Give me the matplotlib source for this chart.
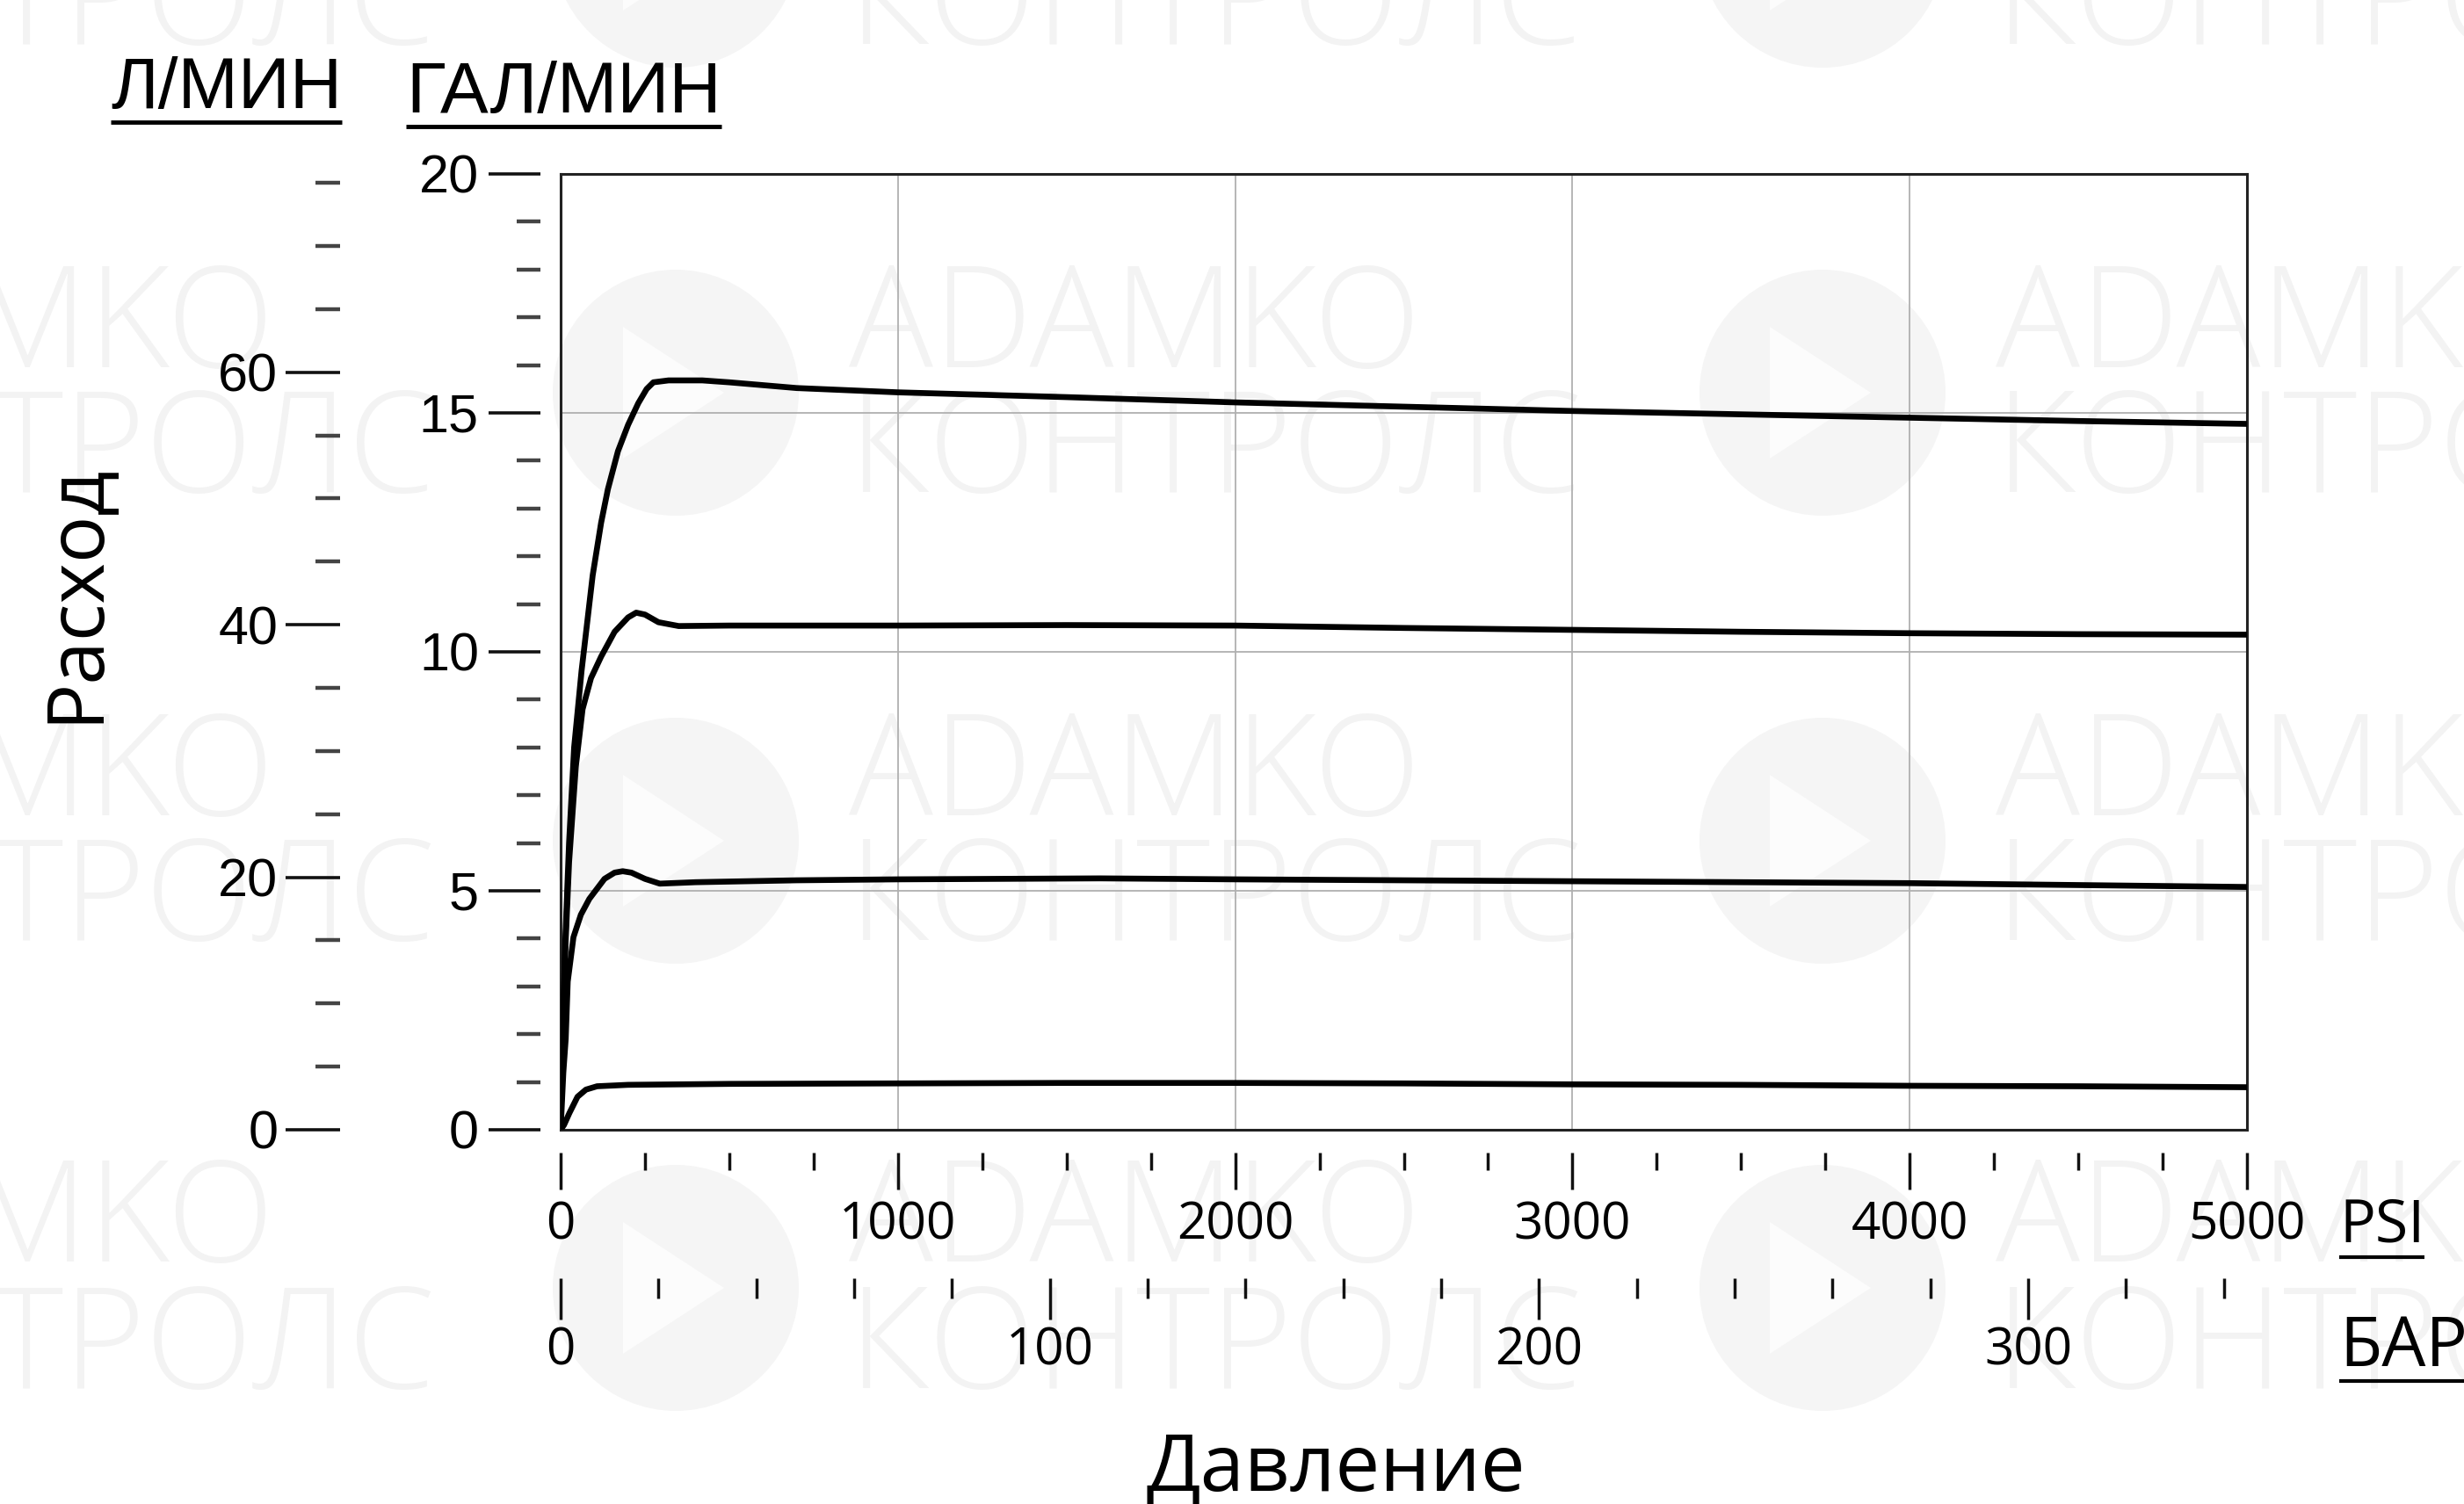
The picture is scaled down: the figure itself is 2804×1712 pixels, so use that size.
import matplotlib
matplotlib.use('Agg')
import matplotlib.pyplot as plt
from matplotlib.lines import Line2D
from matplotlib.patches import Ellipse, Polygon
from matplotlib.ticker import MultipleLocator

# flow curves, pressure in PSI, flow in US gal/min
psi_a = [0, 6, 14, 25, 40, 62, 95, 120, 140, 170, 200, 230, 255, 275, 320, 420, 500, 700, 1000, 1500, 2000, 2500, 3000, 3500, 4000, 4500, 5000]
gpm_a = [0, 2.0, 4.0, 6.0, 8.0, 9.6, 11.6, 12.7, 13.4, 14.2, 14.75, 15.2, 15.5, 15.64, 15.68, 15.68, 15.64, 15.52, 15.43, 15.33, 15.22, 15.13, 15.04, 14.97, 14.9, 14.83, 14.77]

psi_b = [0, 6, 14, 25, 45, 65, 90, 120, 160, 200, 224, 250, 290, 350, 500, 1000, 1500, 2000, 2500, 3000, 3500, 4000, 4500, 5000]
gpm_b = [0, 1.9, 3.8, 5.6, 7.6, 8.8, 9.45, 9.9, 10.42, 10.72, 10.82, 10.78, 10.62, 10.54, 10.55, 10.55, 10.56, 10.55, 10.5, 10.46, 10.42, 10.39, 10.37, 10.36]

psi_c = [0, 8, 15, 21, 38, 60, 85, 130, 160, 184, 210, 250, 294, 400, 700, 1000, 1600, 2000, 2500, 3000, 3500, 4000, 4500, 5000]
gpm_c = [0, 1.2, 1.9, 3.1, 4.03, 4.5, 4.83, 5.25, 5.38, 5.41, 5.38, 5.25, 5.15, 5.18, 5.22, 5.24, 5.26, 5.24, 5.22, 5.2, 5.18, 5.16, 5.12, 5.08]

psi_d = [0, 10, 26, 50, 75, 108, 200, 500, 1000, 1500, 2000, 2500, 3000, 3500, 4000, 4500, 5000]
gpm_d = [0, 0.1, 0.35, 0.69, 0.84, 0.91, 0.94, 0.96, 0.97, 0.98, 0.98, 0.97, 0.95, 0.94, 0.92, 0.91, 0.89]

psi_ticks = [0, 1000, 2000, 3000, 4000, 5000]
bar_ticks = [0, 100, 200, 300]
gal_ticks = [0, 5, 10, 15, 20]
lpm_ticks = [0, 20, 40, 60]

PSI_PER_BAR = 14.5038
L_PER_GAL = 3.785

W, H = 2804, 1712


def fx(px):
    return px / W


def fy(py):
    return 1 - py / H


def underline(fig, txt, y_px, lw):
    """Draws a line under a text, y given in picture pixels from the top"""
    fig.canvas.draw()
    bb = txt.get_window_extent()
    fig.add_artist(Line2D([bb.x0 / W, bb.x1 / W], [fy(y_px), fy(y_px)],
                          color='black', lw=lw, solid_capstyle='butt'))


fig = plt.figure(figsize=(W / 100, H / 100), dpi=100)
fig.patch.set_facecolor('white')

# faint watermark tiles
wm_text = '#f3f3f3'
wm_disc = '#f5f5f5'
for cx in [-536, 769, 2074]:
    for cy in [-63, 447, 957, 1466]:
        fig.add_artist(Ellipse((fx(cx), fy(cy)), 280 / W, 280 / H, color=wm_disc, zorder=-2, lw=0))
        fig.add_artist(Polygon([(fx(cx - 60), fy(cy - 75)), (fx(cx - 60), fy(cy + 75)), (fx(cx + 55), fy(cy))],
                               closed=True, color='#fcfcfc', zorder=-1.5, lw=0))
        fig.text(fx(cx + 197), fy(cy - 71), 'ADAMKO', fontsize=115, family='Open Sans', fontweight='light',
                 color=wm_text, ha='left', va='center', zorder=-1)
        fig.text(fx(cx + 197), fy(cy + 72), 'КОНТРОЛС', fontsize=115, family='Open Sans', fontweight='light',
                 color=wm_text, ha='left', va='center', zorder=-1)

rect = [fx(638), fy(1286), fx(2557) - fx(638), fy(198) - fy(1286)]

# main plot: frame, grid and curves
ax = fig.add_axes(rect, label='main')
ax.set_facecolor('none')
for psi, gpm in [(psi_a, gpm_a), (psi_b, gpm_b), (psi_c, gpm_c), (psi_d, gpm_d)]:
    ax.plot(psi, gpm, color='black', lw=4.8, solid_joinstyle='round', solid_capstyle='round', zorder=3)
ax.set_xlim(0, 5000)
ax.set_ylim(0, 20)
ax.set_xticks([1000, 2000, 3000, 4000])
ax.set_yticks([5, 10, 15])
ax.tick_params(length=0, labelbottom=False, labelleft=False)
ax.grid(True, color='#b0b0b0', lw=1.3)
for sp in ax.spines.values():
    sp.set_linewidth(2.2)
    sp.set_color('#222222')

# gal/min scale
ag = fig.add_axes(rect, frameon=False, label='gal')
ag.set_ylim(0, 20)
ag.set_xticks([])
ag.set_yticks(gal_ticks)
ag.yaxis.set_minor_locator(MultipleLocator(1))
ag.spines['left'].set_position(('outward', 16.5))
ag.tick_params(axis='y', which='major', length=42.5, width=2.6, pad=8, color='#111111',
               labelsize=44, labelfontfamily='Liberation Sans')
ag.tick_params(axis='y', which='minor', length=19.5, width=3.2, color='#444444')

# l/min scale
al = fig.add_axes(rect, frameon=False, label='lpm')
al.set_ylim(0, 20 * L_PER_GAL)
al.set_xticks([])
al.set_yticks(lpm_ticks)
al.yaxis.set_minor_locator(MultipleLocator(5))
al.spines['left'].set_position(('outward', 180.7))
al.tick_params(axis='y', which='major', length=45, width=2.6, pad=6, color='#111111',
               labelsize=44, labelfontfamily='Liberation Sans')
al.tick_params(axis='y', which='minor', length=20, width=3.2, color='#444444')

# PSI scale
ap = fig.add_axes(rect, frameon=False, label='psi')
ap.set_xlim(0, 5000)
ap.set_yticks([])
ap.set_xticks(psi_ticks)
ap.xaxis.set_minor_locator(MultipleLocator(250))
ap.spines['bottom'].set_position(('outward', 18.7))
ap.tick_params(axis='x', which='major', length=30, width=2.5, pad=8.6, color='#111111',
               labelsize=42, labelfontfamily='Open Sans')
ap.tick_params(axis='x', which='minor', length=14.4, width=2.5, color='#111111')

# BAR scale
ab = fig.add_axes(rect, frameon=False, label='bar')
ab.set_xlim(0, 5000 / PSI_PER_BAR)
ab.set_yticks([])
ab.set_xticks(bar_ticks)
ab.xaxis.set_minor_locator(MultipleLocator(20))
ab.spines['bottom'].set_position(('outward', 121.7))
ab.tick_params(axis='x', which='major', length=34, width=2.5, pad=5, color='#111111',
               labelsize=42, labelfontfamily='Open Sans')
ab.tick_params(axis='x', which='minor', length=16.5, width=2.5, color='#111111')

# unit labels
t_lpm = fig.text(fx(126), fy(123), 'Л/МИН', fontsize=59, family='Liberation Sans', ha='left', va='baseline')
t_gal = fig.text(fx(462), fy(128), 'ГАЛ/МИН', fontsize=59, family='Liberation Sans', ha='left', va='baseline')
t_psi = fig.text(fx(2662), fy(1413), 'PSI', fontsize=49, family='Open Sans', ha='left', va='baseline')
t_bar = fig.text(fx(2662), fy(1555), 'БАР', fontsize=57, family='Open Sans', ha='left', va='baseline')

underline(fig, t_lpm, 139, 3.5)
underline(fig, t_gal, 144, 3.5)
underline(fig, t_psi, 1431, 3)
underline(fig, t_bar, 1572, 3)

fig.text(fx(110), fy(675), 'Расход', fontsize=64, family='Open Sans', rotation=90,
         rotation_mode='anchor', ha='center', va='baseline')
fig.text(fx(1520), fy(1697), 'Давление', fontsize=65, family='Open Sans', ha='center', va='baseline')

fig.savefig('out.png', dpi=100)
